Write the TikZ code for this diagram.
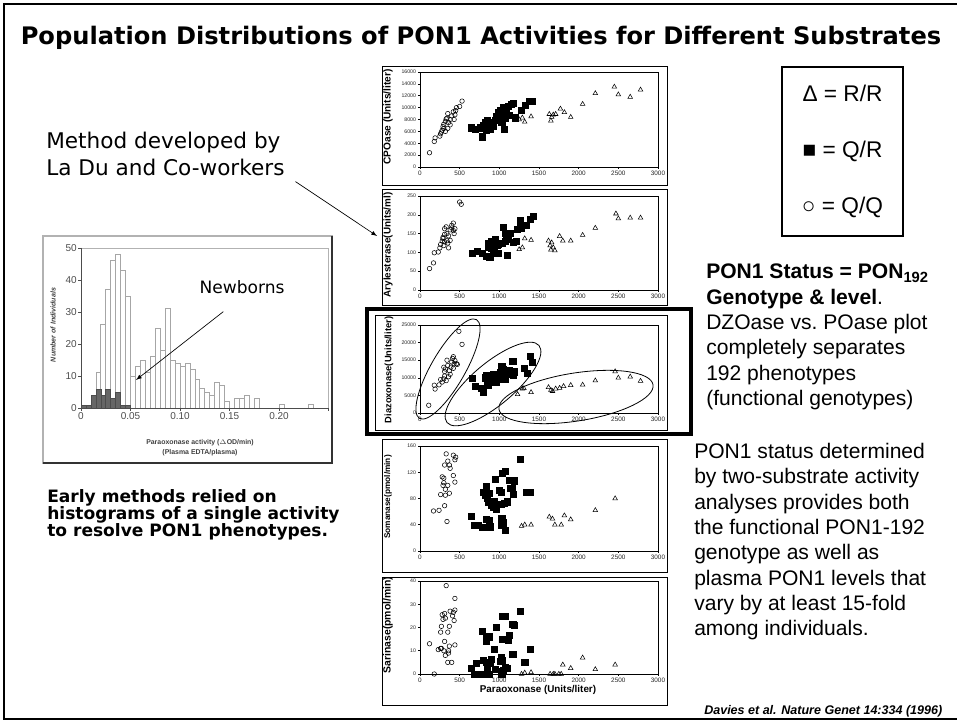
\documentclass[tikz,border=0pt]{standalone}
\usepackage{fontspec}
\setmainfont{Liberation Sans}
\newfontfamily\comicfont{DejaVu Sans}
\usetikzlibrary{positioning,plotmarks}

\tikzset{
  panelframe/.style={draw=black, line width=0.7pt},
  plotarea/.style={draw=black, line width=0.5pt},
  ticklabel/.style={font=\fontsize{4.8}{5}\selectfont, inner sep=1pt, text=black!85},
  yticklabel/.style={font=\fontsize{3.9}{4}\selectfont, inner sep=1pt, text=black!85},
  ytitle/.style={rotate=90, inner sep=0pt},
  qqmarks/.style={only marks, mark=o, mark size=1.7pt, line width=0.4pt},
  qrmarks/.style={only marks, mark=square*, mark size=2.3pt},
  rrmarks/.style={only marks, mark=triangle, mark size=2pt, line width=0.4pt},
  histbar/.style={draw=gray!70, fill=white, line width=0.5pt},
  newbornbar/.style={draw=black!70, fill=black!60, line width=0.4pt},
  histlabel/.style={font=\fontsize{7.5}{8}\selectfont, text=black!70, inner sep=1pt}
}

\begin{document}
\begin{tikzpicture}[x=0.75pt, y=-0.75pt]
\useasboundingbox (0,0) rectangle (957,723);
\clip (0,0) rectangle (957,723);

% slide frame and title
\draw[line width=2.2pt] (4,4) rectangle (990,719);
\node[font=\comicfont\bfseries\fontsize{18.1}{22}\selectfont] (title) at (481,38)
  {Population Distributions of PON1 Activities for Different Substrates};

% the five activity panels
\foreach \pn/\fl/\ft/\fb/\yz/\yu/\ymax/\yticks/\ytx/\yty/\ysz/\ytext in {
  cpo/382/66/185/167/4.453/16/{0/0,2/2000,4/4000,6/6000,8/8000,10/10000,12/12000,14/14000,16/16000}/388/117/7.6/{CPOase (Units/liter)},
  aryl/382/189/305/290/0.282/250/{0/0,50/50,100/100,150/150,200/200,250/250}/388/245/7.4/{Arylesterase(Units/ml)},
  dzo/375/315/430/413/2.64/25/{0/0,5/5000,10/10000,15/15000,20/20000,25/25000}/389/370/7/{Diazoxonase(Units/liter)},
  soman/382/439/572/551/0.4922/160/{0/0,40/40,80/80,120/120,160/160}/388/497/6.2/{Somanase(pmol/min)},
  sarin/382/577/705/674/1.744/40/{0/0,10/10,20/20,30/30,40/40}/388/625/7.8/{Sarinase(pmol/min)}} {
  \draw[panelframe] (\fl,\ft) rectangle (667,\fb);
  \node[ytitle, font=\bfseries\fontsize{\ysz}{8}\selectfont] (\pn-title) at (\ytx,\yty) {\ytext};
  \begin{scope}[shift={(420,\yz)}, x=0.0595pt, y=\yu pt]
    \draw[plotarea] (0,0) rectangle (3000,\ymax);
    \foreach \v in {0,500,...,3000}
      \draw (\v,0) -- ++(0pt,-1.8pt) node[ticklabel, below] (\pn-x\v) {\v};
    \foreach \v/\l in \yticks
      \draw (0,\v) -- ++(-1.8pt,0pt) node[yticklabel, left] (\pn-y\v) {\l};
  \end{scope}
}
\node[font=\bfseries\fontsize{7.4}{8}\selectfont] (paraox) at (538,690) {Paraoxonase (Units/liter)};

% CPOase
\begin{scope}[shift={(420,167)}, x=0.0595pt, y=4.453pt]
  \draw[qqmarks] plot coordinates {(120,2.4) (180,4.3) (190,4.9) (250,5.2) (260,5.6) (270,5.9) (280,6.2) (290,6.8) (300,6.5) (300,7.2) (320,6.0) (320,7.7) (330,8.1) (340,8.2) (350,9.0) (350,6.5) (360,7.5) (380,8.0) (380,7.1) (400,8.6) (420,9.3) (430,8.0) (440,8.8) (450,9.5) (460,10.0) (500,10.2) (530,11.1)};
  \draw[qrmarks] plot coordinates {(650,6.6) (700,6.3) (760,6.6) (790,5.1) (800,7.0) (820,7.5) (830,7.4) (840,6.2) (850,7.8) (860,7.2) (870,6.7) (870,7.0) (880,6.3) (900,7.5) (920,6.9) (950,7.8) (960,8.6) (990,9.2) (1000,8.2) (1010,9.6) (1030,7.6) (1040,8.9) (1050,10.0) (1060,6.3) (1070,8.3) (1090,9.4) (1110,10.2) (1130,8.7) (1150,10.5) (1180,10.8) (1200,8.3) (1280,9.5) (1330,10.4) (1380,11.1) (1420,11.1)};
  \draw[rrmarks] plot coordinates {(1250,8.0) (1290,8.3) (1320,7.6) (1400,8.5) (1630,8.9) (1650,7.8) (1660,8.4) (1680,8.8) (1710,8.9) (1770,9.8) (1820,9.2) (1900,8.4) (2050,10.6) (2210,12.4) (2450,13.5) (2500,12.2) (2650,11.8) (2780,13.0)};
\end{scope}

% Arylesterase
\begin{scope}[shift={(420,290)}, x=0.0595pt, y=0.282pt]
  \draw[qqmarks] plot coordinates {(120,57) (170,72) (180,99) (230,101) (250,112) (260,121) (280,130) (290,137) (290,140) (300,118) (310,128) (310,148) (310,163) (330,168) (340,131) (340,150) (350,125) (360,144) (360,112) (380,132) (380,160) (400,165) (400,172) (420,158) (420,178) (430,150) (440,163) (500,234) (520,228)};
  \draw[qrmarks] plot coordinates {(660,97) (720,103) (780,97) (830,90) (860,124) (860,113) (880,88) (890,121) (900,130) (900,110) (920,105) (930,117) (950,135) (970,118) (980,98) (990,121) (1030,124) (1050,167) (1070,152) (1080,130) (1090,140) (1100,92) (1110,135) (1140,150) (1180,128) (1210,130) (1230,162) (1260,184) (1270,165) (1310,173) (1340,173) (1390,187) (1430,197)};
  \draw[rrmarks] plot coordinates {(1250,108) (1290,113) (1320,137) (1400,133) (1620,131) (1640,118) (1650,107) (1660,126) (1680,113) (1700,105) (1760,143) (1800,131) (1900,131) (2050,146) (2210,165) (2470,203) (2500,190) (2650,192) (2780,192)};
\end{scope}

% Diazoxonase
\begin{scope}[shift={(420,413)}, x=0.0595pt, y=2.64pt]
  \draw[qqmarks] plot coordinates {(110,2.2) (180,7.9) (190,6.8) (240,8.0) (260,9.5) (280,8.8) (300,9.7) (300,13.0) (310,10.5) (310,11.8) (320,12.5) (330,9.2) (340,15.0) (350,13.5) (360,10.3) (370,12.0) (380,11.0) (390,13.0) (400,14.5) (410,15.5) (420,12.7) (420,16.0) (430,14.0) (440,14.9) (460,14.0) (470,13.8) (490,23.2) (530,19.5)};
  \draw[qrmarks] plot coordinates {(660,9.9) (700,7.6) (770,7.0) (800,5.8) (820,10.0) (830,10.6) (850,9.0) (860,7.8) (870,8.7) (880,9.8) (900,10.4) (920,11.0) (940,10.8) (960,8.7) (980,10.2) (1000,9.5) (1010,11.6) (1030,13.2) (1050,12.4) (1060,10.8) (1080,9.5) (1100,11.6) (1120,12.2) (1140,11.0) (1170,14.6) (1180,10.8) (1190,11.7) (1310,12.7) (1350,11.4) (1390,16.2) (1420,14.4)};
  \draw[rrmarks] plot coordinates {(1230,5.3) (1290,6.9) (1310,7.0) (1400,5.9) (1620,7.3) (1650,6.5) (1670,6.2) (1710,6.9) (1760,7.1) (1810,7.6) (1900,7.9) (2050,8.0) (2210,9.2) (2460,11.8) (2500,10.0) (2650,10.3) (2780,9.1)};
\end{scope}
\draw[line width=0.6pt, shift={(448,369)}, rotate=60] (0,0) ellipse [x radius=42.75pt, y radius=12.75pt];
\draw[line width=0.6pt, shift={(493,384)}, rotate=40] (0,0) ellipse [x radius=45pt, y radius=15.75pt];
\draw[line width=0.6pt, shift={(576,397)}, rotate=9] (0,0) ellipse [x radius=58.5pt, y radius=18pt];
\draw[line width=3pt] (367,309) rectangle (691,434);

% Somanase
\begin{scope}[shift={(420,551)}, x=0.0595pt, y=0.4922pt]
  \draw[qqmarks] plot coordinates {(170,61) (240,62) (260,86) (280,113) (290,100) (300,111) (300,104) (310,69) (310,131) (320,85) (320,94) (330,148) (340,45) (350,137) (350,100) (370,88) (370,131) (380,126) (420,115) (420,146) (440,139) (440,105) (450,143)};
  \draw[qrmarks] plot coordinates {(650,53) (690,39) (730,39) (790,36) (800,90) (820,85) (840,99) (840,48) (850,80) (860,75) (870,88) (870,46) (880,37) (900,70) (920,67) (940,75) (950,109) (960,64) (1000,92) (1020,90) (1020,71) (1030,50) (1030,39) (1040,119) (1050,43) (1060,73) (1080,122) (1080,31) (1100,75) (1120,108) (1140,96) (1160,96) (1180,86) (1190,107) (1260,140) (1340,90) (1390,90)};
  \draw[rrmarks] plot coordinates {(1280,38) (1320,40) (1400,40) (1630,52) (1670,49) (1700,40) (1780,40) (1820,54) (1900,48) (2210,62) (2460,80)};
\end{scope}

% Sarinase
\begin{scope}[shift={(420,674)}, x=0.0595pt, y=1.744pt]
  \draw[qqmarks] plot coordinates {(120,13) (180,0) (230,10.5) (260,18) (260,11) (270,20.5) (270,11) (280,25.5) (290,23.5) (300,10) (310,26) (310,14) (320,8) (320,24) (330,38) (350,5) (350,18) (360,9) (360,10) (370,20.5) (370,12) (380,27) (400,5) (410,25) (420,26.5) (430,23) (440,27.5) (440,32.5) (440,12.5)};
  \draw[qrmarks] plot coordinates {(650,2.5) (690,0) (710,4.5) (780,0) (790,18.5) (800,6) (830,15.5) (840,5) (840,14) (850,2.5) (860,16) (870,0) (870,16) (880,4.5) (900,6.5) (940,10.5) (950,2) (960,20) (1010,5.5) (1020,7) (1030,0) (1030,1) (1040,25) (1040,15) (1040,6) (1050,1.5) (1080,25) (1080,3) (1100,2.5) (1110,14.5) (1130,16.5) (1170,8.5) (1170,21.5) (1190,21) (1260,27) (1320,5) (1390,10.5)};
  \draw[rrmarks] plot coordinates {(1280,0) (1320,0.5) (1400,0.7) (1640,0) (1680,0) (1700,0) (1750,0) (1780,0) (1800,4) (1900,2.5) (2050,7) (2210,2) (2460,4)};
\end{scope}

% histogram of paraoxonase activity
\draw[draw=gray!60, line width=1pt] (43,236) rectangle (332,463);
\draw[draw=gray!40!black, line width=1.3pt] (332,236) -- (332,463) -- (43,463);
\begin{scope}[shift={(81,408)}, x=3.7125pt, y=2.4pt]
  \draw[gray!60, line width=0.5pt] (0,50) -- (50,50) -- (50,0);
  \foreach \b/\h in {3/11,4/26,5/37,6/46,7/48,8/43,9/35,10/10,11/13,12/15,13/11,14/16,15/25,16/18,17/31,18/15,19/14,20/13,21/14,22/12,23/9,24/6,25/5,26/4,27/8,28/7,29/2,31/3,32/3,33/4,35/3,40/1,46/1}
    \draw[histbar] (\b,0) rectangle (\b+1,\h);
  \foreach \b/\h in {0/1,1/1,2/4,3/6,4/4,5/6,6/3,7/5,8/1,9/1}
    \draw[newbornbar] (\b,0) rectangle (\b+1,\h);
  \draw[black!70, line width=0.5pt] (0,50) -- (0,0) -- (50,0);
  \foreach \v in {0,10,...,50}
    \draw[black!70] (0,\v) -- ++(-2pt,0pt) node[histlabel, left] (hist-y\v) {\v};
  \foreach \b/\l in {0/0,10/0.05,20/0.10,30/0.15,40/0.20}
    \draw[black!70] (\b,0) -- ++(0pt,-2pt) node[histlabel, below] (hist-x\b) {\l};
  \draw[black!70] (50,0) -- ++(0pt,-2pt);
\end{scope}
\node[font=\bfseries\itshape\fontsize{5.3}{6}\selectfont, rotate=90, text=black!75] (histytitle) at (53,325) {Number of Individuals};
\node[font=\bfseries\fontsize{5.2}{7.5}\selectfont, align=center, text=black!75] (histxtitle) at (200,448)
  {Paraoxonase activity ($\Delta$OD/min)\\(Plasma EDTA/plasma)};
\node[font=\comicfont\fontsize{12.8}{15}\selectfont] (newborns) at (242,287) {Newborns};
\coordinate (nbtip) at (136,380);
\draw[-latex, line width=0.5pt] ([xshift=-14pt, yshift=-10pt]newborns.south) -- (nbtip);

% left side notes
\node[font=\comicfont\fontsize{16.2}{20.25}\selectfont, align=left, anchor=north west, inner sep=0pt] (method) at (46,132)
  {Method developed by\\La Du and Co-workers};
\coordinate (arytip) at (377,236);
\draw[-latex, line width=0.5pt] ([xshift=8pt, yshift=-4pt]method.south east) -- (arytip);
\node[font=\comicfont\bfseries\fontsize{12.8}{12.75}\selectfont, align=left, anchor=north west, inner sep=0pt] (early) at (47,489)
  {Early methods relied on\\histograms of a single activity\\to resolve PON1 phenotypes.};

% legend and notes on the right
\node[draw, line width=1.1pt, minimum width=91pt, minimum height=127pt, align=center,
      font=\fontsize{17}{42}\selectfont] (legend) at (842.5,151.5) {Δ = R/R\\■ = Q/R\\○ = Q/Q};
\node[font=\fontsize{15.8}{19}\selectfont, align=left, anchor=north west, inner sep=0pt] (status) at (706,264)
  {\textbf{PON1 Status = PON\textsubscript{192}}\\\textbf{Genotype \& level}.\\DZOase vs.\ POase plot\\completely separates\\192 phenotypes\\(functional genotypes)};
\node[font=\fontsize{15.8}{19}\selectfont, align=left, anchor=north west, inner sep=0pt] (twosub) at (694,443)
  {PON1 status determined\\by two-substrate activity\\analyses provides both\\the functional PON1-192\\genotype as well as\\plasma PON1 levels that\\vary by at least 15-fold\\among individuals.};
\node[font=\bfseries\itshape\fontsize{9.4}{12}\selectfont, anchor=base west, inner sep=0pt] (cite) at (704,714)
  {\underline{Davies et al. Nature Genet 14:334 (1996)}};
\end{tikzpicture}
\end{document}
